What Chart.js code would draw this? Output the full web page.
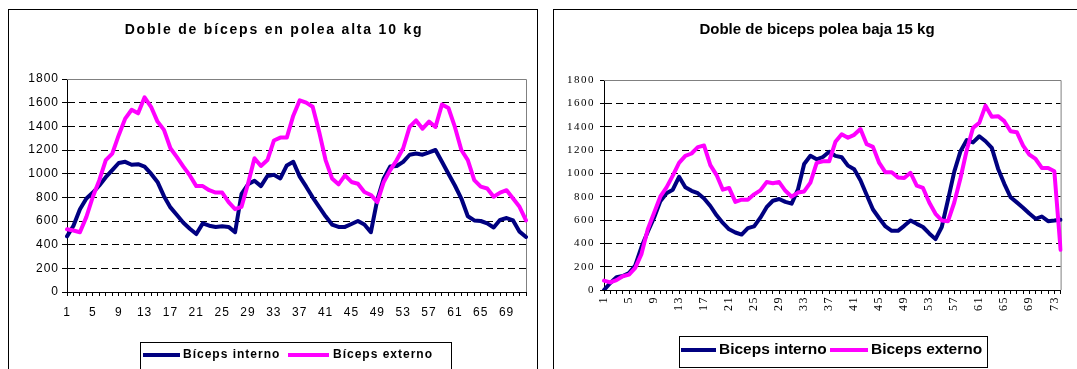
<!DOCTYPE html>
<html>
<head>
<meta charset="utf-8">
<script src="https://cdn.jsdelivr.net/npm/chart.js@4.4.1/dist/chart.umd.min.js"></script>
<style>
    html, body { margin: 0; padding: 0; background: #fff; width: 1077px; height: 369px; overflow: hidden; }
    .panel { position: absolute; border: 1px solid #000; background: #fff; }
    #leftPanel { left: 8px; top: 9px; width: 528px; height: 400px; }
    #rightPanel { left: 553px; top: 9px; width: 600px; height: 400px; }
    canvas { position: absolute; left: 0; top: 0; }
</style>
</head>
<body>
<div class="panel" id="leftPanel"><canvas id="leftChart" width="528" height="360"></canvas></div>
<div class="panel" id="rightPanel"><canvas id="rightChart" width="523" height="360"></canvas></div>
<script>
// Doble de bíceps en polea alta 10 kg
const leftTitle = 'Doble de bíceps en polea alta 10 kg';
const leftCategories = Array.from({ length: 72 }, (_, i) => String(i + 1));
const leftTickLabels = ['1', '5', '9', '13', '17', '21', '25', '29', '33', '37', '41', '45', '49', '53', '57', '61', '65', '69'];
const leftInterno = [
    470, 560, 700, 790, 840, 900, 970, 1030, 1090, 1100,
    1075, 1080, 1060, 1000, 930, 810, 715, 650, 585, 535,
    490, 580, 560, 550, 555, 550, 505, 830, 910, 940,
    895, 980, 990, 960, 1070, 1100, 975, 890, 800, 720,
    640, 570, 550, 550, 575, 600, 570, 505, 780, 960,
    1060, 1065, 1100, 1160, 1170, 1160, 1180, 1200, 1100, 1000,
    900, 790, 640, 605, 600, 580, 545, 610, 625, 605,
    510, 465,
];
const leftExterno = [
    530, 520, 505, 635, 805, 945, 1115, 1170, 1325, 1465,
    1540, 1510, 1645, 1565, 1440, 1370, 1215, 1140, 1060, 985,
    895, 895, 860, 840, 840, 760, 700, 720, 915, 1130,
    1065, 1115, 1280, 1305, 1305, 1490, 1620, 1600, 1565, 1355,
    1115, 960, 910, 985, 930, 915, 845, 820, 760, 930,
    1030, 1115, 1215, 1395, 1450, 1380, 1440, 1395, 1585, 1555,
    1395, 1200, 1115, 945, 890, 875, 805, 840, 860, 790,
    720, 605,
];
const leftSeriesNames = ['Bíceps interno', 'Bíceps externo'];

// Doble de biceps polea baja 15 kg
const rightTitle = 'Doble de biceps polea baja 15 kg';
const rightCategories = Array.from({ length: 74 }, (_, i) => String(i + 1));
const rightTickLabels = ['1', '5', '9', '13', '17', '21', '25', '29', '33', '37', '41', '45', '49', '53', '57', '61', '65', '69', '73'];
const rightInterno = [
    0, 60, 110, 120, 145, 210, 370, 500, 620, 760,
    830, 860, 970, 880, 850, 830, 785, 720, 640, 575,
    520, 493, 475, 530, 545, 620, 710, 765, 780, 755,
    740, 860, 1080, 1150, 1120, 1140, 1185, 1150, 1138, 1066,
    1035, 940, 815, 690, 615, 545, 507, 507, 550, 596,
    567, 540, 485, 436, 540, 774, 1015, 1190, 1285, 1265,
    1318, 1275, 1218, 1040, 910, 795, 751, 705, 655, 610,
    630, 590, 595, 602,
];
const rightExterno = [
    80, 65, 85, 118, 132, 190, 310, 520, 660, 800,
    880, 980, 1090, 1150, 1170, 1225, 1238, 1070, 985, 860,
    875, 755, 774, 774, 820, 854, 925, 915, 925, 850,
    800, 835, 845, 920, 1090, 1103, 1103, 1270, 1335, 1305,
    1330, 1380, 1250, 1227, 1089, 1009, 1009, 965, 960, 1005,
    894, 875, 750, 653, 596, 590, 750, 960, 1200, 1390,
    1433, 1580, 1485, 1490, 1447, 1361, 1353, 1238, 1161, 1123,
    1046, 1046, 1017, 344,
];
const rightSeriesNames = ['Biceps interno', 'Biceps externo'];

const yMin = 0;
const yMax = 1800;
const yStep = 200;

const NAVY = '#000080';
const MAGENTA = '#ff00ff';

// titles, legend box and plot frame drawn on the chart canvas
const panelDecor = {
    id: 'panelDecor',
    beforeDraw(chart, args, opts) {
        chart.ctx.letterSpacing = opts.tickSpacing;
    },
    beforeDatasetsDraw(chart) {
        const { ctx, chartArea: area } = chart;
        ctx.save();
        ctx.strokeStyle = '#808080';
        ctx.lineWidth = 1;
        ctx.beginPath();
        ctx.moveTo(area.left, area.top + 0.5);
        ctx.lineTo(area.right + 0.5, area.top + 0.5);
        ctx.lineTo(area.right + 0.5, area.bottom);
        ctx.stroke();
        ctx.restore();
    },
    afterDraw(chart, args, opts) {
        const ctx = chart.ctx;
        ctx.save();
        ctx.fillStyle = '#000';
        ctx.textBaseline = 'middle';
        ctx.textAlign = 'center';
        ctx.font = opts.titleFont;
        ctx.letterSpacing = opts.titleSpacing;
        ctx.fillText(opts.title, opts.titleX, opts.titleY);

        const [x1, y1, x2, y2] = opts.legendBox;
        ctx.strokeStyle = '#000';
        ctx.lineWidth = 1;
        ctx.strokeRect(x1 + 0.5, y1 + 0.5, x2 - x1, y2 - y1);

        ctx.font = opts.legendFont;
        ctx.letterSpacing = opts.legendSpacing;
        ctx.textAlign = 'left';
        chart.data.datasets.forEach((ds, i) => {
            const item = opts.legendItems[i];
            ctx.strokeStyle = ds.borderColor;
            ctx.lineWidth = 4;
            ctx.lineCap = 'butt';
            ctx.beginPath();
            ctx.moveTo(item.x1, opts.legendY);
            ctx.lineTo(item.x2, opts.legendY);
            ctx.stroke();
            ctx.fillText(ds.label, item.tx, opts.legendY);
        });
        ctx.restore();
    },
};

function buildChart(canvasId, cfg) {
    const shown = cfg.tickLabels;
    return new Chart(document.getElementById(canvasId), {
        type: 'line',
        data: {
            labels: cfg.categories,
            datasets: [
                { label: cfg.names[0], data: cfg.interno, borderColor: NAVY, order: 1 },
                { label: cfg.names[1], data: cfg.externo, borderColor: MAGENTA, order: 0 },
            ],
        },
        options: {
            responsive: false,
            animation: false,
            events: [],
            layout: { padding: cfg.padding },
            elements: {
                point: { radius: 0 },
                line: { borderWidth: 4, tension: 0, borderJoinStyle: 'round', borderCapStyle: 'round' },
            },
            scales: {
                x: {
                    grid: { drawOnChartArea: false, drawTicks: true, tickLength: 4, color: '#000', tickColor: '#000' },
                    border: { color: '#000', width: 1 },
                    ticks: {
                        autoSkip: false,
                        minRotation: cfg.xRotation,
                        maxRotation: cfg.xRotation,
                        padding: cfg.xPad,
                        color: '#000',
                        font: cfg.xFont,
                        callback(value) {
                            const lab = this.getLabelForValue(value);
                            return shown.includes(lab) ? lab : '';
                        },
                    },
                    afterFit(scale) { scale.height = cfg.xHeight; },
                },
                y: {
                    min: yMin,
                    max: yMax,
                    grid: {
                        tickLength: cfg.yTickLen,
                        tickColor: '#000',
                        color: (c) => (c.tick && (c.tick.value === yMin || c.tick.value === yMax)) ? 'rgba(0,0,0,0)' : '#000',
                    },
                    border: { color: '#000', width: 1, dash: [7, 4] },
                    ticks: {
                        stepSize: yStep,
                        padding: cfg.yPad,
                        color: '#000',
                        font: cfg.yFont,
                        callback: (value) => String(value),
                    },
                    afterFit(scale) { scale.width = cfg.yWidth; },
                },
            },
            plugins: {
                legend: { display: false },
                title: { display: false },
                tooltip: { enabled: false },
                panelDecor: cfg.decor,
            },
        },
        plugins: [panelDecor],
    });
}

buildChart('leftChart', {
    categories: leftCategories,
    tickLabels: leftTickLabels,
    interno: leftInterno,
    externo: leftExterno,
    names: leftSeriesNames,
    padding: { left: 8, right: 11, top: 69, bottom: 38 },
    yWidth: 50,
    xHeight: 40,
    yTickLen: 5,
    yPad: 3,
    xPad: 9,
    xRotation: 0,
    xFont: { family: 'Liberation Sans', size: 12 },
    yFont: { family: 'Liberation Sans', size: 12 },
    decor: {
        tickSpacing: '1px',
        title: leftTitle,
        titleFont: 'bold 14px "Liberation Sans"',
        titleSpacing: '1.8px',
        titleX: 265,
        titleY: 20,
        legendBox: [131, 332, 442, 372],
        legendFont: 'bold 12px "Liberation Sans"',
        legendSpacing: '1px',
        legendY: 345,
        legendItems: [{ x1: 134, x2: 171, tx: 174 }, { x1: 279, x2: 320, tx: 324 }],
    },
});

buildChart('rightChart', {
    categories: rightCategories,
    tickLabels: rightTickLabels,
    interno: rightInterno,
    externo: rightExterno,
    names: rightSeriesNames,
    padding: { left: 6, right: 9, top: 70, bottom: 35 },
    yWidth: 44,
    xHeight: 45,
    yTickLen: 4,
    yPad: 5,
    xPad: 2,
    xRotation: 90,
    xFont: { family: 'Liberation Serif', size: 12 },
    yFont: { family: 'Liberation Serif', size: 11 },
    decor: {
        tickSpacing: '1.5px',
        title: rightTitle,
        titleFont: 'bold 15px "Liberation Sans"',
        titleSpacing: '0px',
        titleX: 263,
        titleY: 20,
        legendBox: [125, 326, 433, 357],
        legendFont: 'bold 15.5px "Liberation Sans"',
        legendSpacing: '0px',
        legendY: 340,
        legendItems: [{ x1: 127, x2: 162, tx: 165 }, { x1: 276, x2: 314, tx: 317 }],
    },
});
</script>
</body>
</html>
